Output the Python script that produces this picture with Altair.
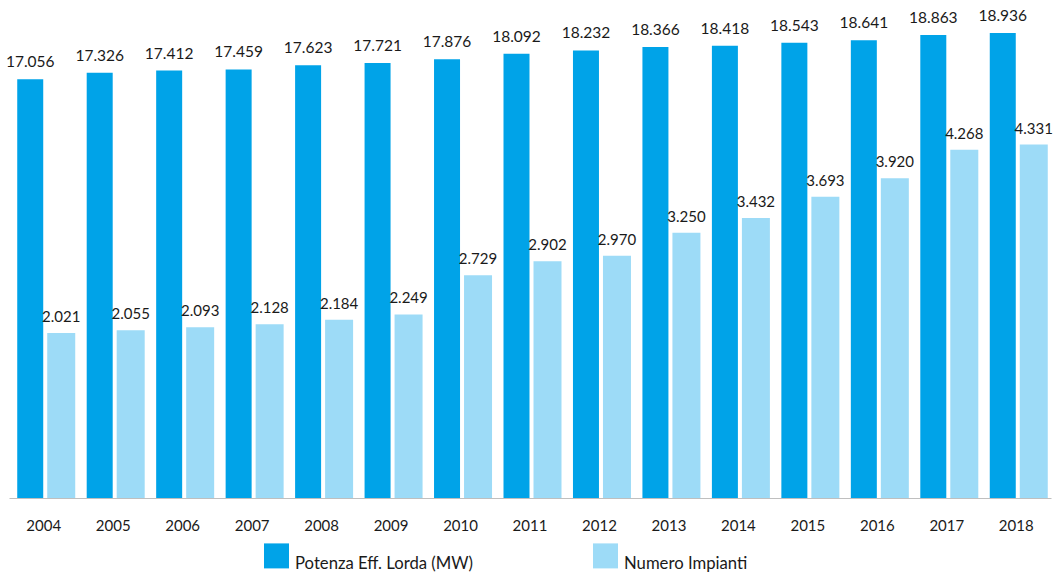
import altair as alt
import pandas as pd

years = [str(y) for y in range(2004, 2019)]
potenza = [17056, 17326, 17412, 17459, 17623, 17721, 17876, 18092, 18232, 18366,
           18418, 18543, 18641, 18863, 18936]
impianti = [2021, 2055, 2093, 2128, 2184, 2249, 2729, 2902, 2970, 3250,
            3432, 3693, 3920, 4268, 4331]
series_names = ["Potenza Eff. Lorda (MW)", "Numero Impianti"]
colors = ["#00A3E8", "#9DDBF7"]


def it_fmt(v):
    return f"{v:,}".replace(",", ".")


df = pd.DataFrame({
    "year": years,
    "potenza": potenza,
    "impianti": impianti,
    "lab_p": [it_fmt(v) for v in potenza],
    "lab_i": [it_fmt(v) for v in impianti],
})

FONT = "Lato"

x = alt.X("year:N", title=None, sort=years,
          scale=alt.Scale(paddingInner=0, paddingOuter=0),
          axis=alt.Axis(labelAngle=0, ticks=False, domainColor="#BFBFBF",
                        labelPadding=20, labelFontSize=15, labelFont=FONT,
                        labelColor="#1a1a1a", grid=False))

color = alt.Color("series:N",
                  scale=alt.Scale(domain=series_names, range=colors),
                  legend=alt.Legend(title=None, orient="none", legendX=255, legendY=543,
                                    direction="horizontal", symbolType="square",
                                    symbolSize=625, symbolStrokeWidth=0,
                                    labelFontSize=16.7, labelFont=FONT,
                                    labelColor="#1a1a1a", labelOffset=6,
                                    labelBaseline="top", columnPadding=119,
                                    padding=0, labelLimit=400))

base = alt.Chart(df)

yp = alt.Y("potenza:Q", axis=None, scale=alt.Scale(domain=[0, 20285], nice=False))
dark_bar = base.mark_bar(width=26, xOffset=-13.5).transform_calculate(
    series=f"'{series_names[0]}'"
).encode(x=x, y=yp, color=color)
dark_txt = base.mark_text(baseline="alphabetic", dy=-12, dx=-13.5, fontSize=15.5,
                          font=FONT, color="#1a1a1a").encode(x=x, y=yp, text="lab_p:N")
dark_layer = alt.layer(dark_bar, dark_txt)

yi = alt.Y("impianti:Q", axis=None, scale=alt.Scale(domain=[0, 6103], nice=False))
light_bar = base.mark_bar(width=28, xOffset=17.5).transform_calculate(
    series=f"'{series_names[1]}'"
).encode(x=x, y=yi, color=color)
light_txt = base.mark_text(baseline="alphabetic", dy=-11, dx=17.5, fontSize=15,
                           font=FONT, color="#1a1a1a").encode(x=x, y=yi, text="lab_i:N")
light_layer = alt.layer(light_bar, light_txt)

chart = alt.layer(dark_layer, light_layer).resolve_scale(
    y="independent"
).properties(
    width=1042, height=498,
    autosize=alt.AutoSizeParams(type="none"),
    padding={"left": 9, "top": 0, "right": 3, "bottom": 74},
    background="white",
).configure_view(stroke=None)

chart.save("out.html", embed_options={"renderer": "svg", "actions": False})
